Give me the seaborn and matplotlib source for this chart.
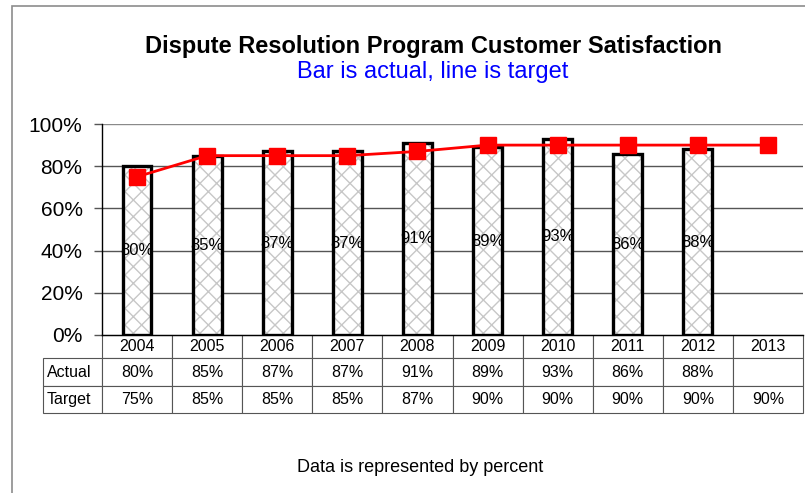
import numpy as np
import pandas as pd
import matplotlib
matplotlib.use("Agg")
import matplotlib.pyplot as plt
import seaborn as sns
from matplotlib.patches import Rectangle

# dados
years = ['2004', '2005', '2006', '2007', '2008', '2009', '2010', '2011', '2012', '2013']
actual = [80, 85, 87, 87, 91, 89, 93, 86, 88, np.nan]
target = [75, 85, 85, 85, 87, 90, 90, 90, 90, 90]
yticks = [0, 20, 40, 60, 80, 100]

sns.set_theme(style='white')
plt.rcParams['font.family'] = ['Liberation Sans', 'DejaVu Sans']
plt.rcParams['text.color'] = 'black'
plt.rcParams['ytick.color'] = 'black'
plt.rcParams['xtick.color'] = 'black'
plt.rcParams['hatch.linewidth'] = 1.0

df = pd.DataFrame({'Year': years, 'Actual': actual, 'Target': target})

fig = plt.figure(figsize=(8.05, 4.93), dpi=100)
fig.patch.set_facecolor('white')
# moldura cinza do grafico
fig.patches.append(Rectangle((12 / 805, -0.1), 1.2, 1 - 6 / 493 + 0.1, transform=fig.transFigure,
                             fill=False, edgecolor='#8c8c8c', linewidth=1.2))

W, H = 805, 493
left, right, top, bottom = 102, 803, 124, 335
ax = fig.add_axes([left / W, 1 - bottom / H, (right - left) / W, (bottom - top) / H])

# barras (real)
sns.barplot(data=df, x='Year', y='Actual', ax=ax, color='white', width=0.41,
            edgecolor='black', linewidth=2.4, zorder=3)
for p in ax.patches:
    p.set_hatch('xx')
    p._hatch_color = (0.78, 0.78, 0.78, 1.0)

for i, v in enumerate(actual):
    if not np.isnan(v):
        ax.text(i, v / 2, f'{int(v)}%', ha='center', va='center', fontsize=12, zorder=5)

# linha (meta)
ax.plot(range(len(years)), target, color='#ff0000', linewidth=2, marker='s',
        markersize=11, markeredgecolor='#ff0000', zorder=6)

ax.set_ylim(0, 100)
ax.set_xlim(-0.5, len(years) - 0.5)
ax.set_yticks(yticks)
ax.set_yticklabels([f'{t}%' for t in yticks], fontsize=15)
ax.tick_params(axis='y', length=6, width=1, color='#555555', left=True, pad=8)
ax.set_xticks([])
ax.set_xlabel('')
ax.set_ylabel('')
for t in yticks[1:]:
    ax.axhline(t, color='#8a8a8a' if t == 100 else '#555555', linewidth=1, zorder=1)
for s in ['top', 'right']:
    ax.spines[s].set_visible(False)
ax.spines['left'].set_color('black')
ax.spines['bottom'].set_color('black')
ax.spines['left'].set_linewidth(1)
ax.spines['bottom'].set_linewidth(1)

# tabela de dados
def pct(v):
    return '' if np.isnan(v) else f'{int(v)}%'

cells = [[''] + years,
         ['Actual'] + [pct(v) for v in actual],
         ['Target'] + [pct(v) for v in target]]
colw = [59] + [70.1] * len(years)
tab_h = 78 / (bottom - top)
tbl = ax.table(cellText=cells, colWidths=[c / 701 for c in colw], cellLoc='center',
               bbox=[-59 / 701, -tab_h, 760 / 701, tab_h])
tbl.auto_set_font_size(False)
row_h = [23, 28, 27]
for (r, c), cell in tbl.get_celld().items():
    cell.set_height(row_h[r])
    cell.set_edgecolor('#555555')
    cell.set_linewidth(0.8)
    cell.get_text().set_fontsize(11.5)
    if c == 0:
        cell.get_text().set_ha('left')
        cell._loc = 'left'
        cell.PAD = 0.06
if (0, 0) in tbl.get_celld():
    tbl[0, 0].visible_edges = ''

fig.text(433 / W, 1 - 46 / H, 'Dispute Resolution Program Customer Satisfaction',
         ha='center', va='center', fontsize=17, fontweight='bold')
fig.text(433 / W, 1 - 72 / H, 'Bar is actual, line is target', ha='center', va='center',
         fontsize=17, color='#0000ff')
fig.text(420 / W, 1 - 467 / H, 'Data is represented by percent', ha='center', va='center',
         fontsize=13)

fig.savefig('out.png', dpi=100)
